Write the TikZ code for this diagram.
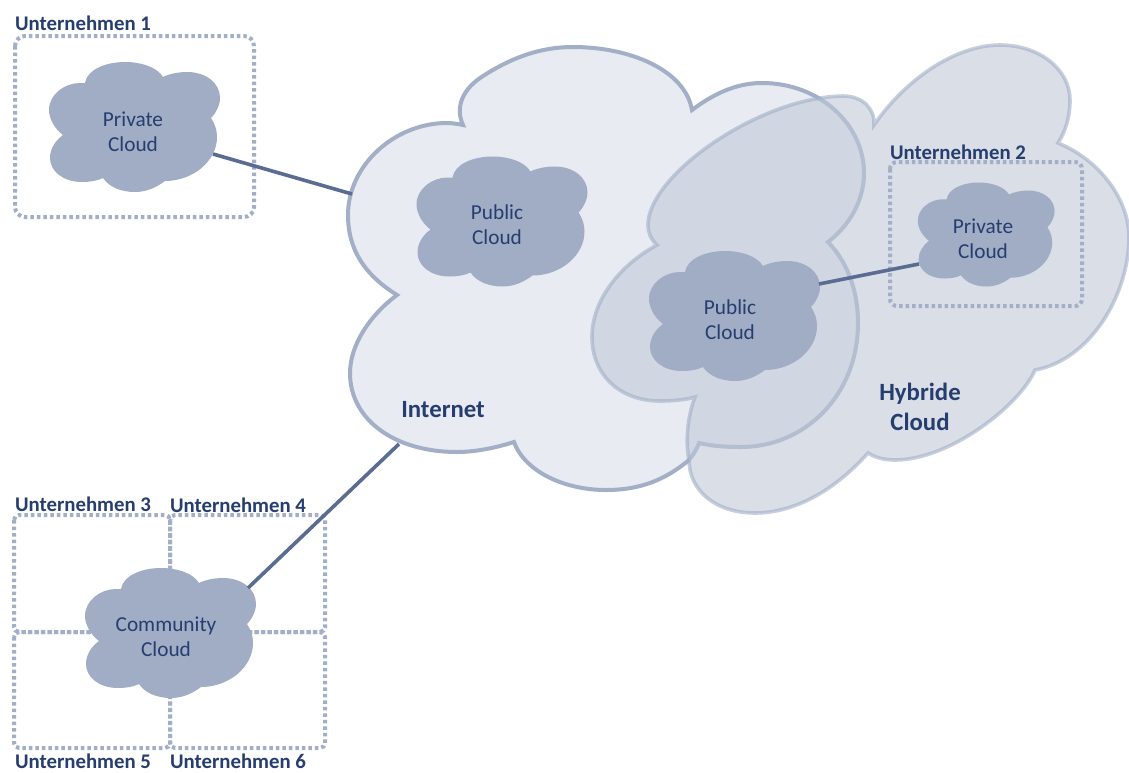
\documentclass[tikz,border=0pt]{standalone}
\usepackage{fontspec}
\setmainfont{Carlito}
\definecolor{cloudfill}{HTML}{A0ADC4}
\definecolor{inkblue}{HTML}{263D6F}
\definecolor{inetfill}{HTML}{E8EBF1}
\definecolor{hybfill}{HTML}{C0C8D8}
\definecolor{edgeblue}{HTML}{A2AFC7}
\definecolor{linkblue}{HTML}{5A6C92}
\newcommand{\smallcloudpath}{(-48,-44)
 .. controls (-46,-57) and (-28,-65) .. (-8,-65)
 .. controls (8,-65) and (24,-60) .. (30,-50)
 .. controls (36,-53) and (45,-55) .. (54,-55)
 .. controls (73,-55) and (87,-44) .. (87,-29)
 .. controls (87,-22) and (83,-14) .. (78,-9)
 .. controls (82,-3) and (84,3) .. (84,10)
 .. controls (84,34) and (60,54) .. (32,54)
 .. controls (24,60) and (14,65) .. (2,65)
 .. controls (-12,65) and (-24,60) .. (-30,51)
 .. controls (-36,54) and (-44,55) .. (-51,55)
 .. controls (-70,55) and (-83,44) .. (-83,31)
 .. controls (-83,22) and (-78,14) .. (-70,8)
 .. controls (-78,2) and (-84,-8) .. (-84,-17)
 .. controls (-84,-33) and (-68,-44) .. (-53,-44)
 .. controls (-51,-44) and (-50,-44) .. (-48,-44) -- cycle}
\tikzset{
 smallcloud/.style={fill=cloudfill,draw=none},
 cloudtext/.style={text=inkblue,align=center,inner sep=0pt,font=\fontsize{21.3}{25.3}\selectfont},
 firmlabel/.style={text=inkblue,inner sep=0pt,font=\fontsize{20.8}{24}\selectfont\bfseries},
 biglabel/.style={text=inkblue,align=center,inner sep=0pt,font=\fontsize{24.8}{30}\selectfont\bfseries},
 dotbox/.style={draw=edgeblue,line width=4pt,dash pattern=on 3.5pt off 3pt},
 link/.style={draw=linkblue,line width=3.6pt},
}
\begin{document}
\begin{tikzpicture}[x=1pt,y=-1pt]
\useasboundingbox (0,0) rectangle (1129,772);
\fill[white] (0,0) rectangle (1129,772);
% Internet
\path[fill=inetfill,draw=edgeblue,line width=4pt,line join=miter]
 (463,125) .. controls (456,110) and (460,92) .. (480,78)
 .. controls (510,58) and (540,47) .. (573,47)
 .. controls (630,47) and (685,70) .. (692,110)
 .. controls (712,95) and (735,83) .. (762,83)
 .. controls (820,83) and (864,125) .. (864,173)
 .. controls (864,200) and (850,225) .. (828,242)
 .. controls (850,265) and (858,295) .. (858,323)
 .. controls (858,395) and (805,447) .. (741,447)
 .. controls (725,447) and (712,446) .. (699,443)
 .. controls (697,449) and (693,455) .. (689,460)
 .. controls (665,480) and (640,490) .. (606,490)
 .. controls (565,490) and (525,472) .. (514,442)
 .. controls (495,448) and (475,452) .. (457,452)
 .. controls (395,452) and (350,420) .. (350,373)
 .. controls (350,345) and (370,315) .. (397,295)
 .. controls (365,275) and (348,250) .. (348,215)
 .. controls (348,165) and (395,123) .. (447,123)
 .. controls (452,123) and (458,124) .. (463,125) -- cycle;
% Hybrid
\path[fill=hybfill,fill opacity=.6,draw=edgeblue,draw opacity=.6,line width=3.6pt,line join=miter]
 (874,125) .. controls (905,80) and (955,45) .. (1000,45)
 .. controls (1040,45) and (1070,70) .. (1070,100)
 .. controls (1070,118) and (1065,132) .. (1058,143)
 .. controls (1100,160) and (1129,200) .. (1129,237)
 .. controls (1129,295) and (1090,360) .. (1035,370)
 .. controls (1020,405) and (950,460) .. (895,460)
 .. controls (885,460) and (876,458) .. (868,453)
 .. controls (835,490) and (795,513) .. (755,513)
 .. controls (715,513) and (689,490) .. (689,460)
 .. controls (685,440) and (688,415) .. (695,397)
 .. controls (685,400) and (672,401) .. (660,401)
 .. controls (620,401) and (592,375) .. (592,337)
 .. controls (592,300) and (620,265) .. (657,245)
 .. controls (650,238) and (648,232) .. (648,225)
 .. controls (648,175) and (760,97) .. (843,96)
 .. controls (862,96) and (875,108) .. (874,125) -- cycle;
% Company boxes
\draw[dotbox,rounded corners=10pt] (15,36) rectangle (254,217);
\draw[dotbox,rounded corners=7pt] (890,162) rectangle (1082,306);
\draw[dotbox,rounded corners=5pt] (14,515) rectangle (170,632);
\draw[dotbox,rounded corners=5pt] (170,515) rectangle (325,632);
\draw[dotbox,rounded corners=5pt] (14,632) rectangle (170,748);
\draw[dotbox,rounded corners=5pt] (170,632) rectangle (325,748);
% Small clouds
\path[smallcloud,shift={(133,127)}] \smallcloudpath;
\path[smallcloud,shift={(500.5,221.5)}] \smallcloudpath;
\path[smallcloud,shift={(733,316)}] \smallcloudpath;
\path[smallcloud,shift={(985,234.5)},scale=.8] \smallcloudpath;
\path[smallcloud,shift={(169,633)}] \smallcloudpath;
% Connector ends
\coordinate (priv1) at (213,154);
\coordinate (inetA) at (352,194);
\coordinate (pubH) at (819,284);
\coordinate (priv2) at (919,264);
\coordinate (comm) at (248,588);
\coordinate (inetB) at (399,444);
\draw[link] (priv1) -- (inetA);
\draw[link] (pubH) -- (priv2);
\draw[link] (comm) -- (inetB);
% Texts
\node[cloudtext] (tp1) at (133,131.5) {Private\\Cloud};
\node[cloudtext] (tpub) at (497,224.5) {Public\\Cloud};
\node[cloudtext] (thpub) at (730,319.5) {Public\\Cloud};
\node[cloudtext] (tp2) at (983,238.5) {Private\\Cloud};
\node[cloudtext] (tcom) at (166,636.5) {Community\\Cloud};
\node[biglabel] (tinet) at (443,410) {Internet};
\node[biglabel] (thyb) at (920,407) {Hybride\\Cloud};
\node[firmlabel] (u1) at (83,23) {Unternehmen 1};
\node[firmlabel] (u2) at (958,152) {Unternehmen 2};
\node[firmlabel] (u3) at (83,504) {Unternehmen 3};
\node[firmlabel] (u4) at (238,505) {Unternehmen 4};
\node[firmlabel] (u5) at (83,761) {Unternehmen 5};
\node[firmlabel] (u6) at (238,761) {Unternehmen 6};
\end{tikzpicture}
\end{document}
